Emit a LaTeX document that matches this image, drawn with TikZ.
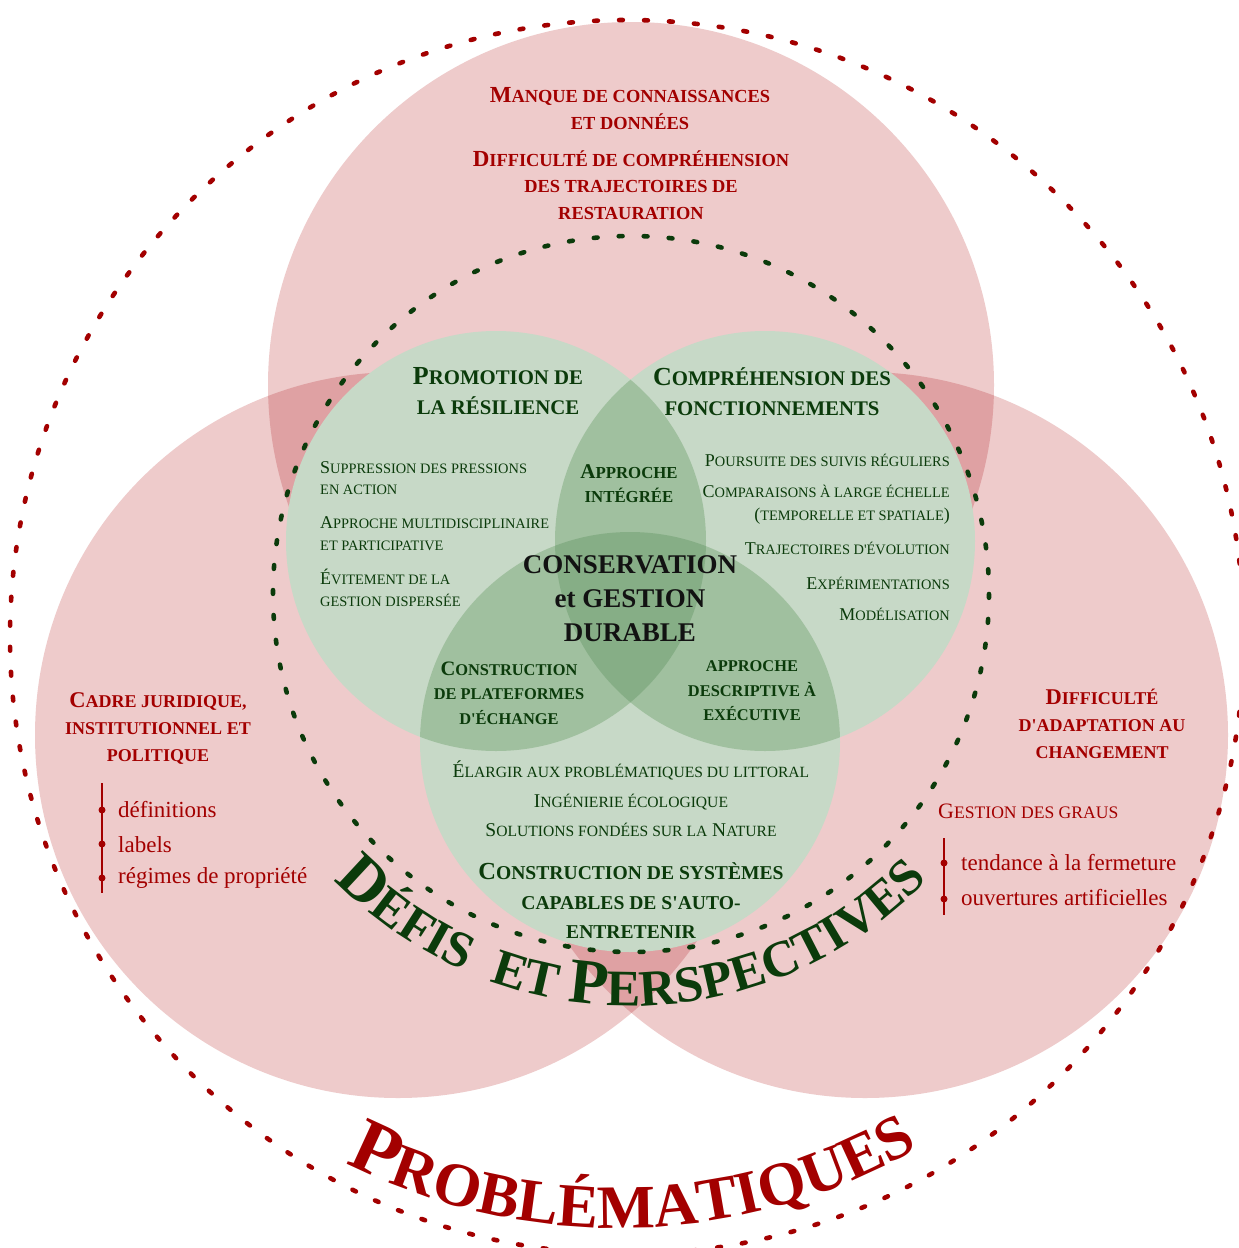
\documentclass[tikz,border=0pt]{standalone}
\usepackage{fontspec}
\setmainfont{Liberation Serif}
\newfontfamily\scf[Scale=0.8]{Liberation Serif}
\usetikzlibrary{decorations.text}
\definecolor{pinkA}{HTML}{EECBCB}
\definecolor{pinkB}{HTML}{DFA1A3}
\definecolor{greenA}{HTML}{C7D9C7}
\definecolor{greenB}{HTML}{A0C09F}
\definecolor{greenC}{HTML}{86AE86}
\definecolor{redc}{HTML}{A30000}
\definecolor{greenc}{HTML}{0B3B0B}
\definecolor{blackc}{HTML}{121212}
\newcommand\bigDF{\fontsize{64}{64}\selectfont\bfseries}
\newcommand\smallDF{\scf\fontsize{64}{64}\selectfont\bfseries}
\newcommand\bigPB{\fontsize{77}{77}\selectfont\bfseries}
\newcommand\smallPB{\scf\fontsize{77}{77}\selectfont\bfseries}
\begin{document}
\begin{tikzpicture}[x=1pt,y=-1pt,
  every node/.style={inner sep=0pt},
  redtitle/.style={text=redc, font=\fontsize{23}{27}\selectfont\bfseries, align=center},
  redsub/.style={text=redc, font=\fontsize{22.5}{27}\selectfont\bfseries, align=center},
  redtext/.style={text=redc, font=\fontsize{22}{26}\selectfont, anchor=base west},
  reditem/.style={text=redc, font=\fontsize{23}{26}\selectfont, anchor=base west},
  greentitle/.style={text=greenc, font=\fontsize{26}{30}\selectfont\bfseries, align=center},
  greenmid/.style={text=greenc, font=\fontsize{20.5}{24.5}\selectfont\bfseries, align=center},
  greenbody/.style={text=greenc, font=\fontsize{18}{21.5}\selectfont},
  greenbottom/.style={text=greenc, font=\fontsize{19.5}{22}\selectfont, anchor=base},
  centre/.style={text=blackc, font=\fontsize{27}{34}\selectfont\bfseries, align=center},
  dotring/.style={line width=4.6pt, dash pattern=on 3.8pt off 21.2pt, line cap=round},
  bulletline/.style={draw=redc, line width=1.4pt}
]
\useasboundingbox (0,0) rectangle (1239,1248);
\fill[white] (0,0) rectangle (1239,1248);
% centres
\coordinate (pT) at (631,385);
\coordinate (pL) at (398,735);
\coordinate (pR) at (865,735);
\coordinate (gL) at (496,541);
\coordinate (gR) at (765,541);
\coordinate (gB) at (630,742);
\coordinate (ringG) at (631,594);
\coordinate (ringR) at (627,637);
% pink circles
\foreach \c in {pT,pL,pR} \fill[pinkA] (\c) circle[radius=363];
\begin{scope}\clip (pT) circle[radius=363]; \fill[pinkB] (pL) circle[radius=363]; \fill[pinkB] (pR) circle[radius=363];\end{scope}
\begin{scope}\clip (pL) circle[radius=363]; \fill[pinkB] (pR) circle[radius=363];\end{scope}
% green circles
\foreach \c in {gL,gR,gB} \fill[greenA] (\c) circle[radius=210];
\begin{scope}\clip (gL) circle[radius=210]; \fill[greenB] (gR) circle[radius=210]; \fill[greenB] (gB) circle[radius=210];\end{scope}
\begin{scope}\clip (gR) circle[radius=210]; \fill[greenB] (gB) circle[radius=210];\end{scope}
\begin{scope}\clip (gL) circle[radius=210]; \clip (gR) circle[radius=210]; \fill[greenC] (gB) circle[radius=210];\end{scope}
% dotted rings
\draw[dotring, greenc] (ringG) circle[radius=358];
\draw[dotring, redc] (ringR) circle[radius=617];

% top red texts
\node[redtitle] (manque) at (630,109) {M{\scf ANQUE DE CONNAISSANCES}\\{\scf ET DONNÉES}};
\node[redtitle, font=\fontsize{23}{26.5}\selectfont\bfseries] (diffcomp) at (631,185) {D{\scf IFFICULTÉ DE COMPRÉHENSION}\\{\scf DES TRAJECTOIRES DE}\\{\scf RESTAURATION}};

% green titles
\node[greentitle] (promo) at (498,391) {P{\scf ROMOTION DE}\\{\scf LA RÉSILIENCE}};
\node[greentitle] (compr) at (772,392) {C{\scf OMPRÉHENSION DES}\\{\scf FONCTIONNEMENTS}};
\node[greenmid, font=\fontsize{21}{24}\selectfont\bfseries] (integ) at (629,484) {A{\scf PPROCHE}\\{\scf INTÉGRÉE}};

% left list
\node[greenbody, anchor=west, align=left] (supp) at (320,478) {S{\scf UPPRESSION DES PRESSIONS}\\{\scf EN ACTION}};
\node[greenbody, anchor=west, align=left] (multi) at (320,533.5) {A{\scf PPROCHE MULTIDISCIPLINAIRE}\\{\scf ET PARTICIPATIVE}};
\node[greenbody, anchor=west, align=left] (evit) at (320,588) {É{\scf VITEMENT DE LA}\\{\scf GESTION DISPERSÉE}};

% right list
\node[greenbody, anchor=base east] (pours) at (950,466) {P{\scf OURSUITE DES SUIVIS RÉGULIERS}};
\node[greenbody, anchor=east, align=right, font=\fontsize{18}{23}\selectfont] (compa) at (950,505) {C{\scf OMPARAISONS À LARGE ÉCHELLE}\\({\scf TEMPORELLE ET SPATIALE})};
\node[greenbody, anchor=base east] (traj) at (950,554) {T{\scf RAJECTOIRES D'ÉVOLUTION}};
\node[greenbody, anchor=base east] (exper) at (950,589) {E{\scf XPÉRIMENTATIONS}};
\node[greenbody, anchor=base east] (model) at (950,620) {M{\scf ODÉLISATION}};

% centre
\node[centre] (cons) at (630,599) {CONSERVATION\\et GESTION\\DURABLE};
\node[greenmid] (plat) at (509,693) {C{\scf ONSTRUCTION}\\{\scf DE PLATEFORMES}\\{\scf D'ÉCHANGE}};
\node[greenmid] (desc) at (752,691) {{\scf APPROCHE}\\{\scf DESCRIPTIVE À}\\{\scf EXÉCUTIVE}};

% bottom green
\node[greenbottom] (elarg) at (631,777) {É{\scf LARGIR AUX PROBLÉMATIQUES DU LITTORAL}};
\node[greenbottom] (inge) at (631,807) {I{\scf NGÉNIERIE ÉCOLOGIQUE}};
\node[greenbottom] (solu) at (631,836) {S{\scf OLUTIONS FONDÉES SUR LA} N{\scf ATURE}};
\node[greentitle, font=\fontsize{24.5}{29.5}\selectfont\bfseries] (syst) at (631,901) {C{\scf ONSTRUCTION DE SYSTÈMES}\\{\scf CAPABLES DE S'AUTO-}\\{\scf ENTRETENIR}};

% left red
\node[redsub] (cadre) at (158,728) {C{\scf ADRE JURIDIQUE,}\\{\scf INSTITUTIONNEL ET}\\{\scf POLITIQUE}};
\coordinate (lt) at (102,783); \coordinate (lb) at (102,893);
\draw[bulletline] (lt) -- (lb);
\foreach \yy in {810,844,878} \fill[redc] (102,\yy) circle[radius=3.5];
\node[reditem] (defi) at (118,817) {définitions};
\node[reditem] (labe) at (118,852) {labels};
\node[reditem] (regi) at (118,883) {régimes de propriété};

% right red
\node[redsub] (adapt) at (1102,724) {D{\scf IFFICULTÉ}\\{\scf D'ADAPTATION AU}\\{\scf CHANGEMENT}};
\node[redtext] (graus) at (938,818) {G{\scf ESTION DES GRAUS}};
\coordinate (rt) at (944,838); \coordinate (rb) at (944,915);
\draw[bulletline] (rt) -- (rb);
\foreach \yy in {863,899} \fill[redc] (944,\yy) circle[radius=3.5];
\node[reditem] (tend) at (961,870) {tendance à la fermeture};
\node[reditem] (ouve) at (961,905) {ouvertures artificielles};

% curved texts
\path[decorate, decoration={text along path, text align=center, text color=greenc,
  text={|\bigDF|D|\smallDF|ÉFIS {\kern14pt}ET |\bigDF|P|\smallDF|ERSPECTIVES}}]
  (315.4,858.8) arc[start angle=140, end angle=40, radius=412];
\path[decorate, decoration={text along path, text align=center, text color=redc,
  text={|\bigPB|P|\smallPB|ROBLÉMATIQUES}}]
  (166.6,1024.6) arc[start angle=138.5, end angle=38.5, radius=603];
\end{tikzpicture}
\end{document}
